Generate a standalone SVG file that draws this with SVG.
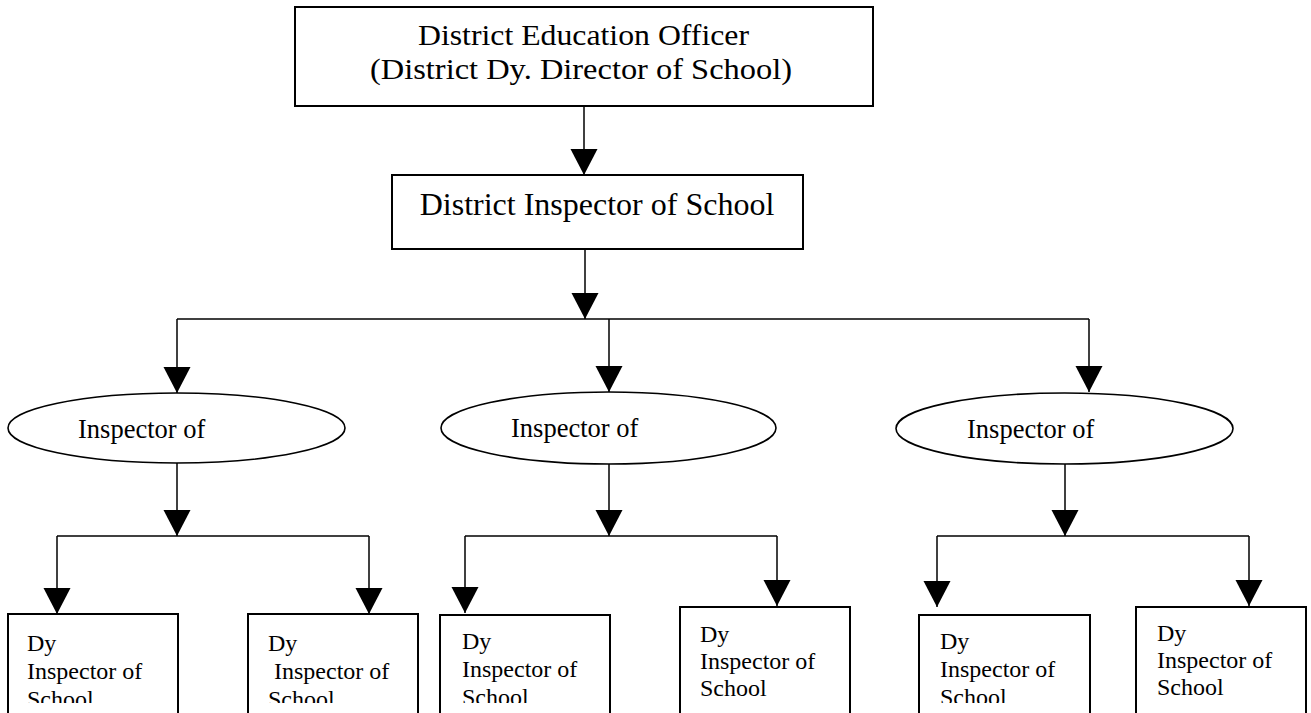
<svg xmlns="http://www.w3.org/2000/svg" width="1311" height="713" viewBox="0 0 1311 713">
<style>
.box{fill:#fff;stroke:#000;stroke-width:2}
.ell{fill:#fff;stroke:#000;stroke-width:1.6}
.conn{fill:none;stroke:#000;stroke-width:1.5}
.t1{font-family:"Liberation Serif","Times New Roman",serif;font-size:32px;fill:#000}
.t1s{font-family:"Liberation Serif","Times New Roman",serif;font-size:30px;fill:#000}
.t2{font-family:"Liberation Serif","Times New Roman",serif;font-size:26.5px;fill:#000}
.t3{font-family:"Liberation Serif","Times New Roman",serif;font-size:24px;fill:#000}
</style>
<defs>
<marker id="arr" markerUnits="userSpaceOnUse" markerWidth="27" markerHeight="28" refX="26" refY="13.5" orient="auto" viewBox="0 0 27 28">
<path d="M0,0 L26,13.5 L0,27 z" fill="#000"/>
</marker>
<clipPath id="clipLow"><rect x="0" y="0" width="1311" height="703"/></clipPath>
</defs>
<rect width="1311" height="713" fill="#fff"/>

<g id="connectors">
<line class="conn" x1="584" y1="106" x2="584" y2="175" marker-end="url(#arr)"/>
<line class="conn" x1="585" y1="249" x2="585" y2="319" marker-end="url(#arr)"/>
<line class="conn" x1="177" y1="319" x2="1089" y2="319"/>
<line class="conn" x1="177" y1="319" x2="177" y2="393" marker-end="url(#arr)"/>
<line class="conn" x1="609" y1="319" x2="609" y2="392" marker-end="url(#arr)"/>
<line class="conn" x1="1089" y1="319" x2="1089" y2="392" marker-end="url(#arr)"/>

<line class="conn" x1="177" y1="463" x2="177" y2="536" marker-end="url(#arr)"/>
<line class="conn" x1="57" y1="536" x2="369" y2="536"/>
<line class="conn" x1="57" y1="536" x2="57" y2="614" marker-end="url(#arr)"/>
<line class="conn" x1="369" y1="536" x2="369" y2="614" marker-end="url(#arr)"/>

<line class="conn" x1="609" y1="464" x2="609" y2="536" marker-end="url(#arr)"/>
<line class="conn" x1="465" y1="536" x2="777" y2="536"/>
<line class="conn" x1="465" y1="536" x2="465" y2="613" marker-end="url(#arr)"/>
<line class="conn" x1="777" y1="536" x2="777" y2="606" marker-end="url(#arr)"/>

<line class="conn" x1="1065" y1="464" x2="1065" y2="536" marker-end="url(#arr)"/>
<line class="conn" x1="937" y1="536" x2="1249" y2="536"/>
<line class="conn" x1="937" y1="536" x2="937" y2="607" marker-end="url(#arr)"/>
<line class="conn" x1="1249" y1="536" x2="1249" y2="606" marker-end="url(#arr)"/>
</g>

<g id="deo">
<rect class="box" x="295" y="7" width="578" height="99"/>
<text class="t1s" x="418" y="45" textLength="331" lengthAdjust="spacingAndGlyphs">District Education Officer</text>
<text class="t1s" x="370" y="79" textLength="422" lengthAdjust="spacingAndGlyphs">(District Dy. Director of School)</text>
</g>

<g id="dis">
<rect class="box" x="392" y="175" width="411" height="74"/>
<text class="t1" x="597" y="215" text-anchor="middle">District Inspector of School</text>
</g>

<g id="io1">
<ellipse class="ell" cx="176.5" cy="428" rx="168.5" ry="35"/>
<text class="t2" x="78" y="438">Inspector of</text>
</g>
<g id="io2">
<ellipse class="ell" cx="608.5" cy="428" rx="167.5" ry="36"/>
<text class="t2" x="511" y="437">Inspector of</text>
</g>
<g id="io3">
<ellipse class="ell" cx="1064.5" cy="428.5" rx="168.5" ry="35.5"/>
<text class="t2" x="967" y="438">Inspector of</text>
</g>

<g id="dis1">
<rect class="box" x="8" y="614" width="170" height="130"/>
<g clip-path="url(#clipLow)">
<text class="t3" x="27" y="651">Dy</text>
<text class="t3" x="27" y="679">Inspector of</text>
<text class="t3" x="27" y="707">School</text>
</g>
</g>
<g id="dis2">
<rect class="box" x="248" y="614" width="170" height="130"/>
<g clip-path="url(#clipLow)">
<text class="t3" x="268" y="651">Dy</text>
<text class="t3" x="274" y="679">Inspector of</text>
<text class="t3" x="268" y="707">School</text>
</g>
</g>
<g id="dis3">
<rect class="box" x="440" y="615" width="170" height="130"/>
<g clip-path="url(#clipLow)">
<text class="t3" x="462" y="649">Dy</text>
<text class="t3" x="462" y="677">Inspector of</text>
<text class="t3" x="462" y="705">School</text>
</g>
</g>
<g id="dis4">
<rect class="box" x="680" y="607" width="170" height="130"/>
<text class="t3" x="700" y="642">Dy</text>
<text class="t3" x="700" y="669">Inspector of</text>
<text class="t3" x="700" y="696">School</text>
</g>
<g id="dis5">
<rect class="box" x="919" y="615" width="171" height="130"/>
<g clip-path="url(#clipLow)">
<text class="t3" x="940" y="649">Dy</text>
<text class="t3" x="940" y="677">Inspector of</text>
<text class="t3" x="940" y="705">School</text>
</g>
</g>
<g id="dis6">
<rect class="box" x="1136" y="607" width="170" height="130"/>
<text class="t3" x="1157" y="641">Dy</text>
<text class="t3" x="1157" y="668">Inspector of</text>
<text class="t3" x="1157" y="695">School</text>
</g>
</svg>
